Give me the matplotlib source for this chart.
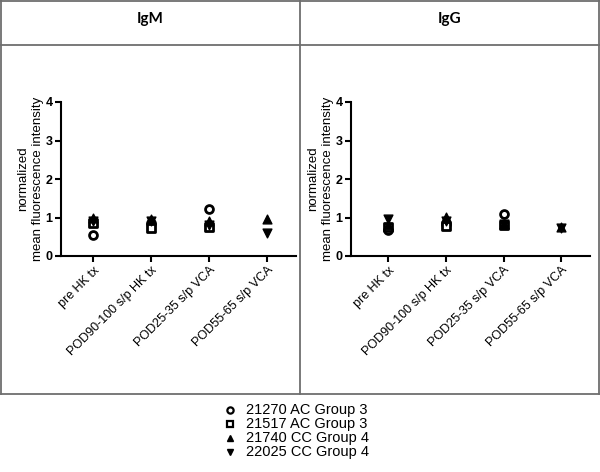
import matplotlib
matplotlib.use("Agg")
import matplotlib.pyplot as plt
from matplotlib.lines import Line2D

# ---- data ----
categories = ["pre HK tx", "POD90-100 s/p HK tx", "POD25-35 s/p VCA", "POD55-65 s/p VCA"]
series_names = ["21270 AC Group 3", "21517 AC Group 3", "21740 CC Group 4", "22025 CC Group 4"]
series_markers = ["o", "s", "^", "v"]

# IgM values per series (None = no point)
igm_21270 = [0.55, 0.85, 1.22, None]
igm_21517 = [0.85, 0.72, 0.76, None]
igm_21740 = [0.98, 0.97, 0.90, 0.96]
igm_22025 = [0.92, 0.92, 0.80, 0.60]

# IgG values per series
igg_21270 = [0.68, 0.82, 1.10, None]
igg_21517 = [0.75, 0.78, 0.81, None]
igg_21740 = [0.80, 1.02, 0.82, 0.76]
igg_22025 = [0.95, 0.90, 0.82, 0.74]

panel_titles = ["IgM", "IgG"]
panel_data = [
    [igm_21270, igm_21517, igm_21740, igm_22025],
    [igg_21270, igg_21517, igg_21740, igg_22025],
]

W, H = 600, 472
fig = plt.figure(figsize=(6, 4.72), dpi=100)

# ---- table frame ----
def fline(x0, y0, x1, y1):
    fig.add_artist(Line2D([x0 / W, x1 / W], [1 - y0 / H, 1 - y1 / H],
                          color="#6e6e6e", lw=1.3, transform=fig.transFigure))

fline(1, 0.5, 599, 0.5)
fline(1, 45, 599, 45)
fline(1, 394, 599, 394)
fline(1, 0, 1, 394)
fline(598.5, 0, 598.5, 394)
fline(300, 0, 300, 394)

for title, xc in zip(panel_titles, [150, 450]):
    fig.text(xc / W, 1 - 19 / H, title, ha="center", va="center",
             fontsize=11, fontweight="bold", family="Lato")

# ---- panels ----
axes_px = [(61, 296, -0.56, 3.5), (351, 590, -0.65, 3.5)]
for (x0, x1, xmin, xmax), data in zip(axes_px, panel_data):
    ax = fig.add_axes([x0 / W, 1 - 256 / H, (x1 - x0) / W, (256 - 102) / H])
    for vals, m in zip(data, series_markers):
        xs = [i for i, v in enumerate(vals) if v is not None]
        ys = [v for v in vals if v is not None]
        if m in ("o", "s"):
            ax.scatter(xs, ys, marker=m, s=32, facecolors="white",
                       edgecolors="black", linewidths=2.0, zorder=3)
        else:
            ax.scatter(xs, ys, marker=m, s=40, color="black", zorder=3)
    ax.set_xlim(xmin, xmax)
    ax.set_ylim(0, 4)
    ax.set_yticks([0, 1, 2, 3, 4])
    ax.set_xticks(range(len(categories)))
    ax.set_xticklabels(categories, rotation=45, ha="right", rotation_mode="anchor",
                       fontsize=9, family="Liberation Sans")
    for lab in ax.get_yticklabels():
        lab.set_fontsize(9)
        lab.set_fontweight("bold")
        lab.set_family("Liberation Sans")
    ax.spines["top"].set_visible(False)
    ax.spines["right"].set_visible(False)
    ax.spines["left"].set_linewidth(1.5)
    ax.spines["bottom"].set_linewidth(1.5)
    ax.tick_params(width=1.5, length=4, pad=2)
    ax.set_ylabel("normalized\nmean fluorescence intensity", fontsize=9.5,
                  family="Liberation Sans", labelpad=1, linespacing=1.3)
    ax.patch.set_alpha(0)

# ---- legend ----
leg_y = [410, 424, 438, 452]
for name, m, yy in zip(series_names, series_markers, leg_y):
    if m in ("o", "s"):
        fig.add_artist(Line2D([230 / W], [1 - yy / H], marker=m, markersize=4.5,
                              markerfacecolor="white", markeredgecolor="black",
                              markeredgewidth=1.6, linestyle="none",
                              transform=fig.transFigure))
    else:
        fig.add_artist(Line2D([230 / W], [1 - yy / H], marker=m, markersize=5,
                              color="black", linestyle="none",
                              transform=fig.transFigure))
    fig.text(246 / W, 1 - yy / H, name, ha="left", va="center",
             fontsize=10.5, family="Liberation Sans")

fig.savefig("out.png", dpi=100, facecolor="white")
